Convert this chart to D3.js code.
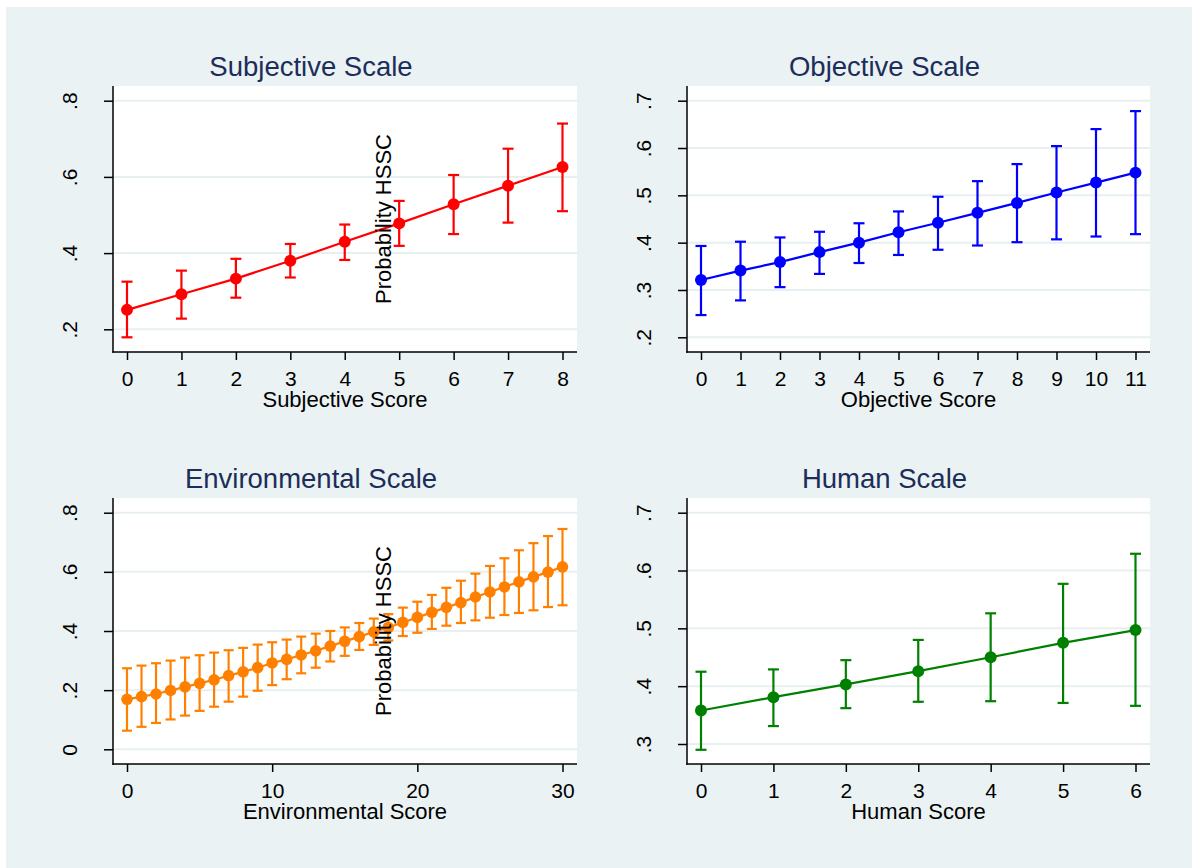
<!DOCTYPE html>
<html>
<head>
<meta charset="utf-8">
<script src="https://cdn.jsdelivr.net/npm/d3@7"></script>
<style>
  body { margin: 0; background: #fff; }
  svg { display: block; font-family: "Liberation Sans", Arial, sans-serif; }
</style>
</head>
<body>
<svg id="chart" width="1192" height="868"></svg>
<script>
// data
var subjScore = [0, 1, 2, 3, 4, 5, 6, 7, 8];
var subjProb  = [0.251, 0.292, 0.333, 0.380, 0.430, 0.478, 0.528, 0.577, 0.626];
var subjLo    = [0.179, 0.228, 0.283, 0.336, 0.382, 0.419, 0.450, 0.480, 0.510];
var subjHi    = [0.325, 0.354, 0.385, 0.424, 0.475, 0.537, 0.605, 0.674, 0.740];
var subjYTicks = [0.2, 0.4, 0.6, 0.8];
var subjXTicks = [0, 1, 2, 3, 4, 5, 6, 7, 8];

var objScore = [0, 1, 2, 3, 4, 5, 6, 7, 8, 9, 10, 11];
var objProb  = [0.321, 0.341, 0.359, 0.380, 0.400, 0.422, 0.442, 0.463, 0.484, 0.506, 0.527, 0.548];
var objLo    = [0.247, 0.278, 0.306, 0.334, 0.357, 0.374, 0.385, 0.394, 0.401, 0.407, 0.413, 0.418];
var objHi    = [0.393, 0.402, 0.411, 0.423, 0.441, 0.466, 0.497, 0.530, 0.566, 0.604, 0.640, 0.678];
var objYTicks = [0.2, 0.3, 0.4, 0.5, 0.6, 0.7];
var objXTicks = [0, 1, 2, 3, 4, 5, 6, 7, 8, 9, 10, 11];

var envScore = d3.range(0, 31);
var envProb = [0.169, 0.178, 0.187, 0.199, 0.211, 0.223, 0.235, 0.249, 0.262, 0.276,
               0.292, 0.304, 0.319, 0.333, 0.349, 0.365, 0.381, 0.397, 0.412, 0.429,
               0.446, 0.463, 0.480, 0.496, 0.515, 0.532, 0.549, 0.566, 0.583, 0.599, 0.617];
var envLo   = [0.063, 0.076, 0.089, 0.101, 0.114, 0.130, 0.144, 0.161, 0.178, 0.198,
               0.217, 0.237, 0.257, 0.276, 0.297, 0.316, 0.336, 0.353, 0.368, 0.383,
               0.394, 0.407, 0.418, 0.427, 0.436, 0.445, 0.454, 0.461, 0.470, 0.481, 0.487];
var envHi   = [0.274, 0.283, 0.291, 0.300, 0.310, 0.318, 0.327, 0.335, 0.343, 0.354,
               0.362, 0.371, 0.381, 0.391, 0.400, 0.412, 0.427, 0.442, 0.457, 0.479,
               0.499, 0.522, 0.546, 0.570, 0.594, 0.620, 0.646, 0.673, 0.697, 0.721, 0.745];
var envYTicks = [0, 0.2, 0.4, 0.6, 0.8];
var envXTicks = [0, 10, 20, 30];

var humScore = [0, 1, 2, 3, 4, 5, 6];
var humProb  = [0.358, 0.381, 0.403, 0.426, 0.450, 0.475, 0.497];
var humLo    = [0.290, 0.331, 0.362, 0.373, 0.374, 0.371, 0.366];
var humHi    = [0.425, 0.429, 0.445, 0.480, 0.526, 0.577, 0.629];
var humYTicks = [0.3, 0.4, 0.5, 0.6, 0.7];
var humXTicks = [0, 1, 2, 3, 4, 5, 6];

var svg = d3.select("#chart");

// stata-like background
svg.append("rect").attr("x", 6).attr("y", 7).attr("width", 1186).attr("height", 861).attr("fill", "#eaf2f3");

function fmtTick(v) {
  if (v === 0) return "0";
  return d3.format(".1f")(v).replace(/^0/, "");
}

function panel(o) {
  var g = svg.append("g");
  var x0 = o.left, x1 = o.right, y0 = o.top, y1 = o.bottom;

  var x = d3.scaleLinear().domain(d3.extent(o.xTicks)).range([x0 + 14, x1 - 14.5]);
  var y = d3.scaleLinear().domain(d3.extent(o.yTicks)).range([o.yMinPx, o.yMaxPx]);

  g.append("rect").attr("x", x0).attr("y", y0).attr("width", x1 - x0).attr("height", y1 - y0).attr("fill", "#fff");

  // grid
  g.selectAll(".grid").data(o.yTicks).enter().append("line")
    .attr("x1", x0).attr("x2", x1)
    .attr("y1", function(d){ return y(d); }).attr("y2", function(d){ return y(d); })
    .attr("stroke", "#e8eff1").attr("stroke-width", 2);

  // axes
  var yAxis = d3.axisLeft(y).tickValues(o.yTicks).tickSize(9).tickPadding(0).tickFormat(fmtTick);
  var ya = g.append("g").attr("transform", "translate(" + x0 + ",0)").call(yAxis);
  ya.select(".domain").remove();
  ya.selectAll(".tick line").attr("stroke", "#000").attr("stroke-width", 1.5);
  ya.selectAll(".tick text")
    .attr("x", 0).attr("dy", null)
    .attr("transform", "translate(-36,0) rotate(-90)")
    .attr("text-anchor", "middle")
    .attr("fill", "#000")
    .style("font-size", "21px")
    .style("font-family", "'Liberation Sans', Arial, sans-serif");

  var xAxis = d3.axisBottom(x).tickValues(o.xTicks).tickSize(8).tickPadding(0).tickFormat(d3.format("d"));
  var xa = g.append("g").attr("transform", "translate(0," + y1 + ")").call(xAxis);
  xa.select(".domain").remove();
  xa.selectAll(".tick line").attr("stroke", "#000").attr("stroke-width", 1.5);
  xa.selectAll(".tick text")
    .attr("y", 34).attr("dy", null)
    .attr("fill", "#000")
    .style("font-size", "21px")
    .style("font-family", "'Liberation Sans', Arial, sans-serif");

  g.append("line").attr("x1", x0).attr("x2", x0).attr("y1", y0).attr("y2", y1 + 0.75)
    .attr("stroke", "#000").attr("stroke-width", 1.5);
  g.append("line").attr("x1", x0 - 0.75).attr("x2", x1).attr("y1", y1).attr("y2", y1)
    .attr("stroke", "#000").attr("stroke-width", 1.5);

  // titles
  g.append("text").attr("x", (x0 - 68 + x1) / 2).attr("y", y0 - 10)
    .attr("text-anchor", "middle").attr("fill", "#1c2d5a")
    .style("font-size", "27.5px").text(o.title);
  g.append("text").attr("x", (x0 + x1) / 2).attr("y", y1 + 55)
    .attr("text-anchor", "middle").attr("fill", "#000")
    .style("font-size", "22px").text(o.xTitle);

  var pts = o.score.map(function(s, i){ return {s: s, p: o.prob[i], lo: o.lo[i], hi: o.hi[i]}; });

  // error bars
  var eb = g.append("g");
  eb.selectAll(".ci").data(pts).enter().append("line")
    .attr("x1", function(d){ return x(d.s); }).attr("x2", function(d){ return x(d.s); })
    .attr("y1", function(d){ return y(d.lo); }).attr("y2", function(d){ return y(d.hi); })
    .attr("stroke", o.color).attr("stroke-width", 2.2);
  ["lo", "hi"].forEach(function(k){
    eb.selectAll(".cap" + k).data(pts).enter().append("line")
      .attr("x1", function(d){ return x(d.s) - o.cap; }).attr("x2", function(d){ return x(d.s) + o.cap; })
      .attr("y1", function(d){ return y(d[k]); }).attr("y2", function(d){ return y(d[k]); })
      .attr("stroke", o.color).attr("stroke-width", 2.2);
  });

  var line = d3.line().x(function(d){ return x(d.s); }).y(function(d){ return y(d.p); });
  g.append("path").datum(pts).attr("d", line).attr("fill", "none")
    .attr("stroke", o.color).attr("stroke-width", 2.2);

  g.selectAll(".pt").data(pts).enter().append("circle")
    .attr("cx", function(d){ return x(d.s); }).attr("cy", function(d){ return y(d.p); })
    .attr("r", o.r).attr("fill", o.color);

  if (o.yLabel) {
    g.append("text")
      .attr("transform", "translate(" + (x0 + 278) + "," + ((y0 + y1) / 2) + ") rotate(-90)")
      .attr("text-anchor", "middle").attr("fill", "#000")
      .style("font-size", "22px").text(o.yLabel);
  }
}

panel({ left: 113, right: 577, top: 86, bottom: 352, yMinPx: 329.3, yMaxPx: 100.7,
  score: subjScore, prob: subjProb, lo: subjLo, hi: subjHi, xTicks: subjXTicks, yTicks: subjYTicks,
  color: "#ff0000", r: 6, cap: 5.5, title: "Subjective Scale", xTitle: "Subjective Score", yLabel: "Probability HSSC" });

panel({ left: 687, right: 1150, top: 86, bottom: 352, yMinPx: 337.3, yMaxPx: 100.7,
  score: objScore, prob: objProb, lo: objLo, hi: objHi, xTicks: objXTicks, yTicks: objYTicks,
  color: "#0000ff", r: 6, cap: 5.5, title: "Objective Scale", xTitle: "Objective Score" });

panel({ left: 113, right: 577, top: 498, bottom: 764, yMinPx: 749.3, yMaxPx: 512.7,
  score: envScore, prob: envProb, lo: envLo, hi: envHi, xTicks: envXTicks, yTicks: envYTicks,
  color: "#ff8000", r: 5.8, cap: 5, title: "Environmental Scale", xTitle: "Environmental Score", yLabel: "Probability HSSC" });

panel({ left: 687, right: 1150, top: 498, bottom: 764, yMinPx: 744, yMaxPx: 512.7,
  score: humScore, prob: humProb, lo: humLo, hi: humHi, xTicks: humXTicks, yTicks: humYTicks,
  color: "#008000", r: 6, cap: 5.5, title: "Human Scale", xTitle: "Human Score" });
</script>
</body>
</html>
